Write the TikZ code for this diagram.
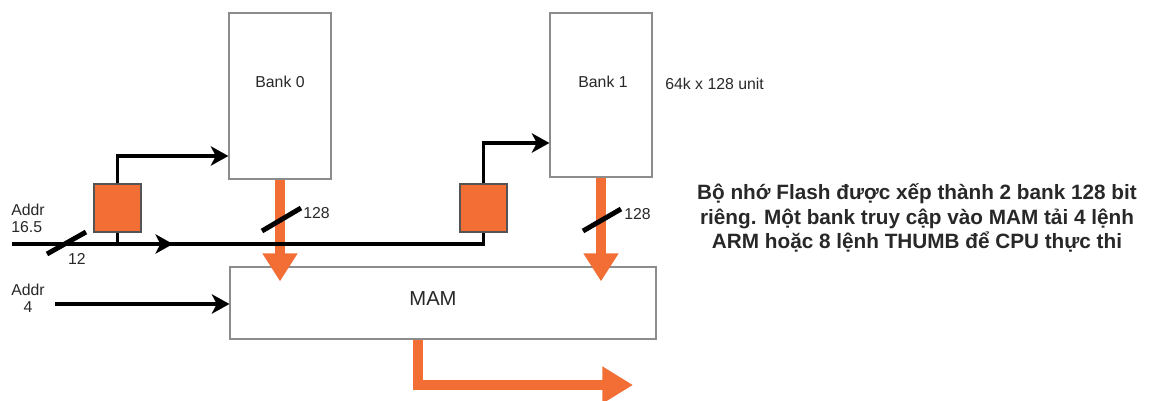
\documentclass[tikz,border=0pt]{standalone}
\usepackage{fontspec}
\setmainfont{Liberation Sans}
\usetikzlibrary{arrows.meta}
\definecolor{morange}{RGB}{242,110,52}
\definecolor{mgray}{RGB}{140,140,140}
\definecolor{mtext}{RGB}{40,40,40}
\tikzset{
  bank/.style ={rectangle, draw=mgray, line width=0.7pt, fill=white},
  latch/.style={rectangle, draw=mgray!60!black, line width=0.6pt, fill=morange,
                minimum width=0.94cm, minimum height=0.96cm},
  wire/.style ={draw=black, line width=1.8pt},
  ar/.style   ={wire, -{Stealth[length=10pt,width=11pt,inset=2.8pt]}},
  bus/.style  ={draw=morange, line width=6pt, -{Triangle[length=16pt,width=19pt]}},
  slash/.style={draw=black, line width=2.8pt},
  lbl/.style  ={font=\fontsize{9}{9.5}\selectfont, text=mtext, inner sep=0pt}
}
\begin{document}
\begin{tikzpicture}[x=0.02cm, y=-0.02cm]
\useasboundingbox (0,0) rectangle (1155,401);
% banks and MAM
\node[bank, minimum width=2.04cm, minimum height=3.32cm] (bank0) at (280,96) {};
\node[bank, minimum width=2.04cm, minimum height=3.28cm] (bank1) at (601,95) {};
\node[bank, minimum width=8.52cm, minimum height=1.44cm] (mam) at (443,303) {};
\node[lbl] (t0) at (280,82) {Bank 0};
\node[lbl] (t1) at (603,82) {Bank 1};
\node[lbl, anchor=west] (size) at (665,84) {64k x 128 unit};
\node[lbl, font=\fontsize{11.5}{12}\selectfont] (tm) at (433,299) {MAM};

\node[latch] (sqa) at (117.5,208) {};
\node[latch] (sqb) at (483.5,208) {};

% wide data paths
\draw[bus] (bank0.south) -- ([yshift=-15*0.02cm]bank0.south |- mam.north);
\draw[bus] (bank1.south) -- ([yshift=-15*0.02cm]bank1.south |- mam.north);
\coordinate (out) at (633,385);
\draw[bus, line width=6.2pt, -{Triangle[length=17.5pt,width=20pt]}]
  (mam.south -| 418,0) |- (out);

% address lines
\coordinate (a16) at (12,244);
\coordinate (amid) at (173,244);
\coordinate (a4) at (55,304);
\draw[wire] (a16) -| (sqb.south);
\draw[ar] (a16) -- (amid);
\draw[wire] (sqa.south) -- (sqa.south |- a16);
\draw[ar] (sqa.north) |- (bank0.west |- 0,156);
\draw[ar] (sqb.north) |- (bank1.west |- 0,143);
\draw[ar] (a4) -- (mam.west |- a4);

\node[lbl, align=left, anchor=north west] (addr) at (11,204) {Addr\\16.5};
\node[lbl, align=center, anchor=north west] (addr4) at (11,284) {Addr\\4};

% bus widths
\draw[slash] (47,254) -- (86,232);
\node[lbl] (w12) at (77,259) {12};
\draw[slash] (262,231) -- (301,208);
\node[lbl, anchor=west] (w0) at (303,213) {128};
\draw[slash] (583,231) -- (621,209);
\node[lbl, anchor=west] (w1) at (624,214) {128};

\node[font=\fontsize{11.8}{14}\selectfont\bfseries, text=mtext, align=center] (note) at (917,218)
  {Bộ nhớ Flash được xếp thành 2 bank 128 bit\\
   riêng. Một bank truy cập vào MAM tải 4 lệnh\\
   ARM hoặc 8 lệnh THUMB để CPU thực thi};
\end{tikzpicture}
\end{document}
